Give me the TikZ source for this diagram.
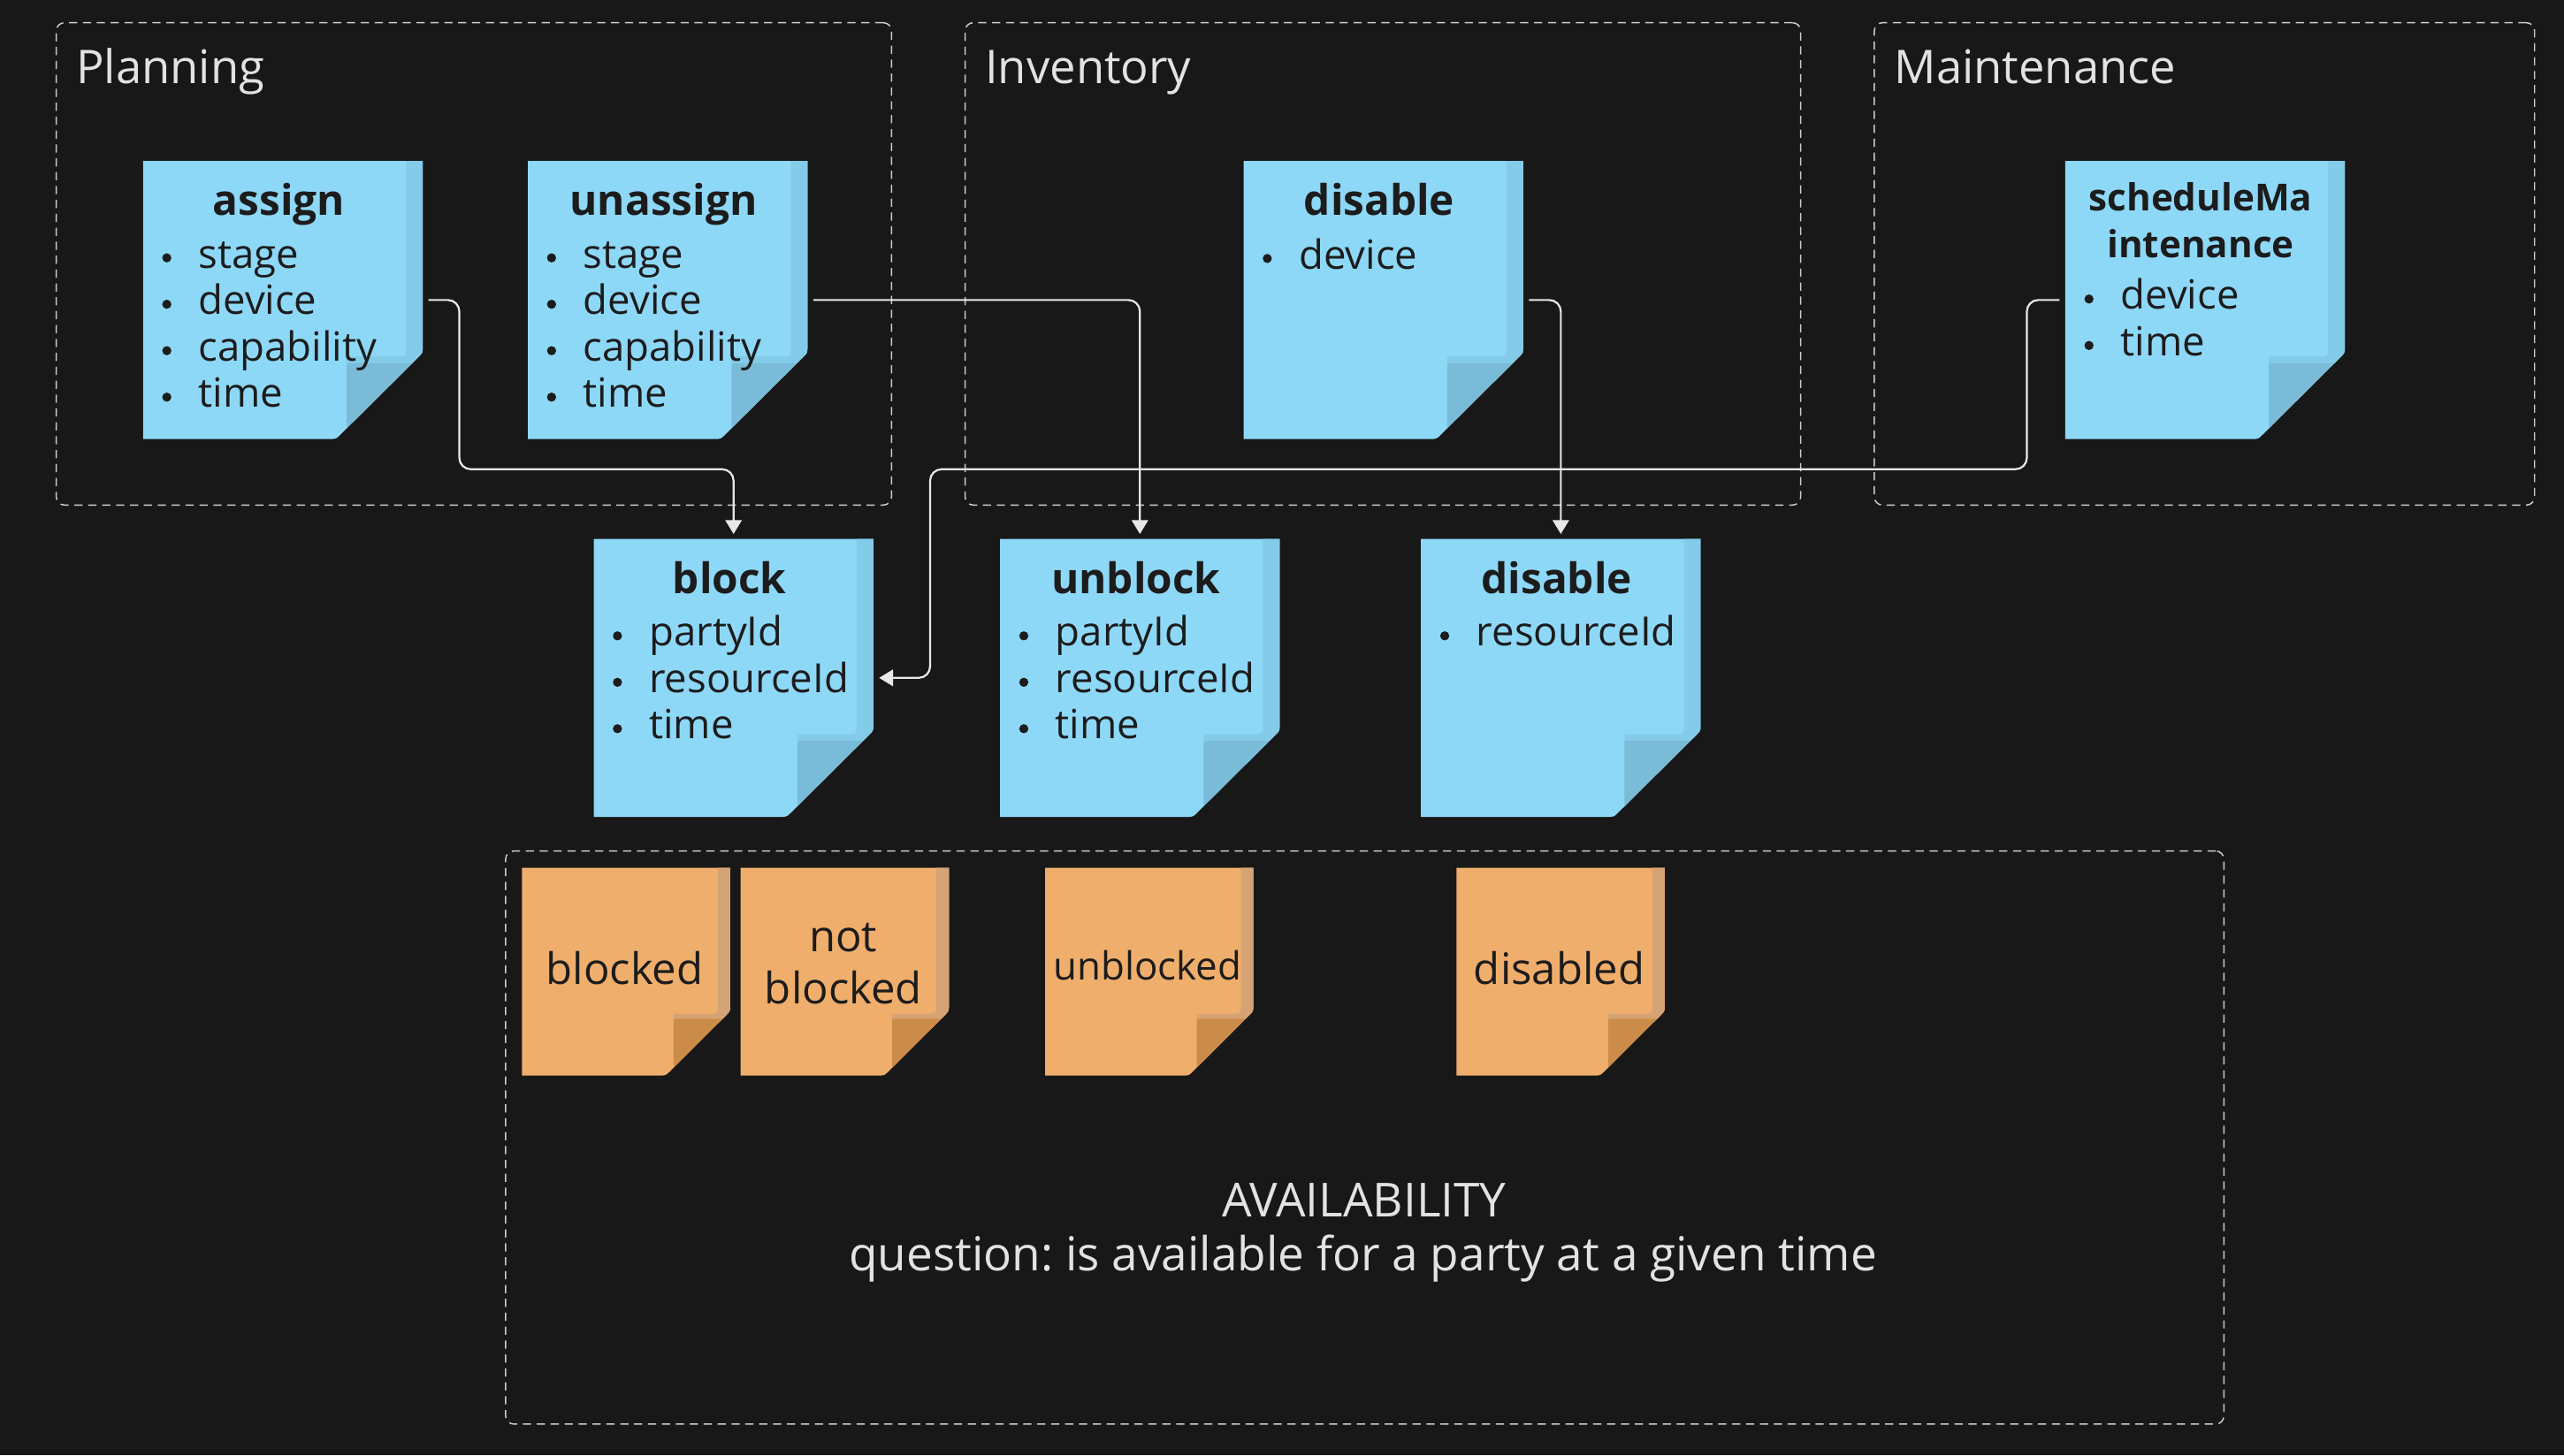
\documentclass[tikz,border=0pt]{standalone}
\usepackage{fontspec}
\setmainfont{Open Sans}
\usetikzlibrary{arrows.meta}
\frenchspacing
\definecolor{bg}{RGB}{24,24,24}
\definecolor{bbody}{RGB}{142,216,247}
\definecolor{bstrip}{RGB}{132,203,233}
\definecolor{bfold}{RGB}{122,188,216}
\definecolor{obody}{RGB}{240,174,108}
\definecolor{ostrip}{RGB}{214,164,116}
\definecolor{ofold}{RGB}{203,140,74}
\definecolor{ink}{RGB}{28,28,28}
\definecolor{framec}{RGB}{205,205,205}
\definecolor{linec}{RGB}{232,232,232}
\definecolor{labelc}{RGB}{226,226,226}

\newcommand{\sticky}[6]{%
  \node[notebox, minimum width=#4pt, minimum height=#5pt] (#1) at (#2,#3) {};
  \pgfmathsetmacro\sxa{#2-#4/2}%
  \pgfmathsetmacro\sxb{#2+#4/2}%
  \pgfmathsetmacro\sya{#3-#5/2}%
  \pgfmathsetmacro\syb{#3+#5/2}%
  \pgfmathsetmacro\sxc{\sxa+0.69*#4}%
  \pgfmathsetmacro\syc{\sya+0.69*#5}%
  \pgfmathsetmacro\sxf{\sxa+0.728*#4}%
  \pgfmathsetmacro\syf{\sya+0.727*#5}%
  \pgfmathsetmacro\sxs{\sxb-0.06*#4}%
  \pgfmathsetmacro\sxg{\sxa+0.963*#4}%
  \pgfmathsetmacro\syg{\sya+0.962*#5}%
  \pgfmathsetmacro\syh{\sya+0.703*#5}%
  \fill[#6body] (\sxa,\sya) -- (\sxb,\sya) -- (\sxb,\syc-4) .. controls (\sxb,\syc) .. (\sxb-2.5,\syc+2.5) -- (\sxc+2.5,\syb-2.5) .. controls (\sxc,\syb) .. (\sxc-4,\syb) -- (\sxa,\syb) -- cycle;
  \fill[#6strip] (\sxs,\sya) -- (\sxb,\sya) -- (\sxb,\syc-4) .. controls (\sxb,\syc) .. (\sxb-2.5,\syc+2.5) -- (\sxg,\syf) -- (\sxf,\syf) -- (\sxf,\syh) -- (\sxs-6,\syh) .. controls (\sxs,\syh) .. (\sxs,\syh-6) -- cycle;
  \fill[#6fold] (\sxf,\syf) -- (\sxg,\syf) -- (\sxf,\syg) -- cycle;
}
\newcommand{\items}[4]{%
  \foreach \entry [count=\k] in {#4} {%
    \pgfmathsetmacro\bly{#3+28.4*\k-28.4}%
    \fill[ink] (#2+14.5,\bly-6.3) circle (2.8);
    \node[itm] (#1-\k) at (#2+33.7,\bly) {\entry};}%
}

\begin{document}
\begin{tikzpicture}[x=1pt,y=-1pt,
  notebox/.style={inner sep=0pt, outer sep=0pt},
  frame/.style={draw=framec, line width=0.8pt, dash pattern=on 5pt off 3.5pt, rounded corners=5pt, inner sep=0pt, outer sep=0pt},
  lbl/.style={text=labelc, font=\fontsize{28.4pt}{34pt}\selectfont, inner sep=0pt, anchor=base west},
  ttl/.style={text=ink, font=\bfseries\fontsize{25.8pt}{30pt}\selectfont, inner sep=0pt, anchor=base},
  ttlsmall/.style={text=ink, font=\bfseries\fontsize{22.8pt}{28pt}\selectfont, inner sep=0pt, anchor=base},
  itm/.style={text=ink, font=\fontsize{24.6pt}{28.4pt}\selectfont, inner sep=0pt, anchor=base west},
  otxt/.style={text=ink, font=\fontsize{26.5pt}{31pt}\selectfont, inner sep=0pt, anchor=base},
  otxtsmall/.style={text=ink, font=\fontsize{23.7pt}{28pt}\selectfont, inner sep=0pt, anchor=base},
  avl/.style={text=labelc, font=\fontsize{28.7pt}{34pt}\selectfont, inner sep=0pt, anchor=base},
  conn/.style={draw=linec, line width=1.2pt, rounded corners=7pt, -{Triangle[length=8.5pt,width=10pt]}, shorten >=3pt, shorten <=3.5pt}
]
\useasboundingbox (0,0) rectangle (1568,890);
\fill[bg] (0,0) rectangle (1568,890);

% frames
\node[frame, minimum width=510.8pt, minimum height=295pt] (planning) at (289.8,161.4) {};
\node[frame, minimum width=511pt, minimum height=295pt] (inventory) at (845.7,161.4) {};
\node[frame, minimum width=403.8pt, minimum height=295pt] (maintenance) at (1348.1,161.4) {};
\node[frame, minimum width=1050.8pt, minimum height=350.5pt] (availability) at (834.6,695.75) {};
\node[lbl] (planning-l) at (46.5,51) {Planning};
\node[lbl] (inventory-l) at (602.3,51) {Inventory};
\node[lbl] (maintenance-l) at (1158.3,51) {Maintenance};

% blue notes, top row
\sticky{assign}{173}{183.5}{171}{170}{b}
\node[ttl] (assign-t) at (170.5,131.5) {assign};
\items{assign}{87.5}{164}{stage,device,capability,time}

\sticky{unassign}{408.3}{183.5}{171}{170}{b}
\node[ttl] (unassign-t) at (405.8,131.5) {unassign};
\items{unassign}{322.8}{164}{stage,device,capability,time}

\sticky{dis1}{846}{183.5}{171}{170}{b}
\node[ttl] (dis1-t) at (843.5,131.5) {disable};
\items{dis1}{760.5}{164.4}{device}

\sticky{sched}{1348.5}{183.5}{171}{170}{b}
\node[ttlsmall] (sched-t1) at (1345.8,128.9) {scheduleMa};
\node[ttlsmall] (sched-t2) at (1345.8,157.7) {intenance};
\items{sched}{1263}{189.2}{device,time}

% blue notes, second row
\sticky{block}{448.6}{414.6}{171}{170}{b}
\node[ttl] (block-t) at (446.1,363) {block};
\items{block}{363.1}{395.2}{partyId,resourceId,time}

\sticky{unblock}{697.1}{414.6}{171}{170}{b}
\node[ttl] (unblock-t) at (694.6,363) {unblock};
\items{unblock}{611.6}{395.2}{partyId,resourceId,time}

\sticky{dis2}{954.5}{414.6}{171}{170}{b}
\node[ttl] (dis2-t) at (952,363) {disable};
\items{dis2}{869}{395.2}{resourceId}

% orange notes
\sticky{blocked}{382.9}{594.3}{127.4}{127}{o}
\node[otxt] (blocked-t) at (382,602.3) {blocked};
\sticky{notblocked}{516.6}{594.3}{127.4}{127}{o}
\node[otxt] (notblocked-t1) at (515.7,582) {not};
\node[otxt] (notblocked-t2) at (515.7,613.7) {blocked};
\sticky{unblocked}{702.8}{594.3}{127.4}{127}{o}
\node[otxtsmall] (unblocked-t) at (701.8,599.2) {unblocked};
\sticky{disabled}{954.4}{594.3}{127.4}{127}{o}
\node[otxt] (disabled-t) at (953.5,601.9) {disabled};

\node[avl] (av-1) at (834.2,744) {AVAILABILITY};
\node[avl] (av-2) at (833.5,777) {question: is available for a party at a given time};

% connectors
\coordinate (busA) at (280.9,287);
\coordinate (busB) at (1239.5,287);
\coordinate (busC) at (568.8,414.6);
\draw[conn] (assign.east) -| (busA) -| (block.north);
\draw[conn] (unassign.east) -| (unblock.north);
\draw[conn] (dis1.east) -| (dis2.north);
\draw[conn, shorten >=3.5pt] (sched.west) -| (busB) -| (busC) -- (block.east);
\end{tikzpicture}
\end{document}
